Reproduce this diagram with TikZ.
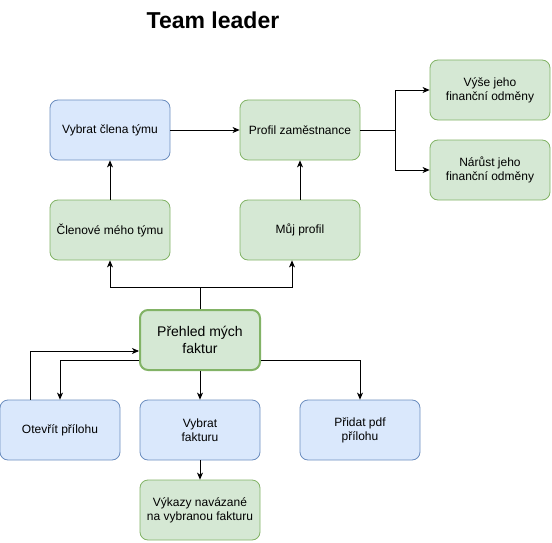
\documentclass[tikz,border=0pt]{standalone}
\usepackage{fontspec}
\setmainfont{Liberation Sans}
\usetikzlibrary{arrows.meta}
\definecolor{bfill}{HTML}{DAE8FC}
\definecolor{bline}{HTML}{6C8EBF}
\definecolor{gfill}{HTML}{D5E8D4}
\definecolor{gline}{HTML}{82B366}
\begin{document}
\begin{tikzpicture}[x=1pt,y=-1pt,
  box/.style={rounded corners=8pt, minimum width=120pt, minimum height=60pt, inner sep=2pt, align=center, font=\fontsize{12}{14}\selectfont, line width=0.8pt},
  bluebox/.style={box, draw=bline, fill=bfill},
  greenbox/.style={box, draw=gline, fill=gfill},
  conn/.style={line width=0.8pt, -{Stealth[length=7pt,width=6pt,inset=2pt]}},
  line/.style={line width=0.8pt}]
\useasboundingbox (0,0) rectangle (552,543);
\node[font=\bfseries\fontsize{23}{26}\selectfont] (title) at (213,20) {Team leader};
\node[bluebox] (vybratclena) at (110,130) {Vybrat člena týmu};
\node[greenbox] (profil) at (300,130) {Profil zaměstnance};
\node[greenbox] (vyse) at (490,90) {Výše jeho\\finanční odměny};
\node[greenbox] (narust) at (490,170) {Nárůst jeho\\finanční odměny};
\node[greenbox] (clenove) at (110,230) {Členové mého týmu};
\node[greenbox] (mujprofil) at (300,230) {Můj profil};
\node[greenbox, line width=2pt, font=\fontsize{14}{17}\selectfont] (prehled) at (200,340) {Přehled mých\\faktur};
\node[bluebox] (otevrit) at (60,430) {Otevřít přílohu};
\node[bluebox] (vybratfak) at (200,430) {Vybrat\\fakturu};
\node[bluebox] (pridat) at (360,430) {Přidat pdf\\přílohu};
\node[greenbox] (vykazy) at (200,510) {Výkazy navázané\\na vybranou fakturu};
\coordinate (split) at (200,287);
\draw[line] (prehled.north) -- (split);
\draw[conn] (split) -| (clenove.south);
\draw[conn] (split) -| ([xshift=-8pt]mujprofil.south);
\draw[conn] (clenove) -- (vybratclena);
\draw[conn] (mujprofil) -- (profil);
\draw[conn] (vybratclena) -- (profil);
\coordinate (fork) at (395,130);
\draw[line] (profil.east) -- (fork);
\draw[conn] (fork) |- (vyse.west);
\draw[conn] (fork) |- (narust.west);
\draw[conn] ([xshift=-30pt]otevrit.north) |- ([yshift=-11pt]prehled.west);
\draw[conn] ([yshift=-20pt]prehled.west) -| (otevrit.north);
\draw[conn] (prehled) -- (vybratfak);
\draw[conn] ([yshift=-20pt]prehled.east) -| (pridat.north);
\draw[conn] (vybratfak) -- (vykazy);
\end{tikzpicture}
\end{document}
